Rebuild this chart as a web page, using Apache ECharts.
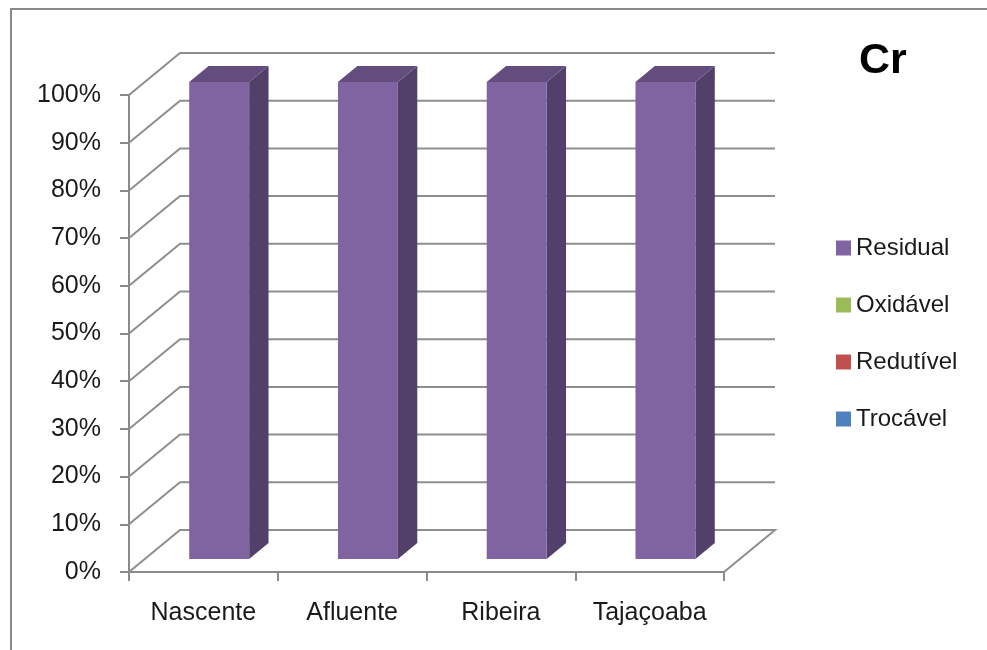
<!DOCTYPE html>
<html>
<head>
<meta charset="utf-8">
<script src="https://cdn.jsdelivr.net/npm/echarts@6/dist/echarts.min.js"></script>
<style>
html,body{margin:0;padding:0;background:#fff;}
#chart{width:987px;height:650px;}
</style>
</head>
<body>
<div id="chart"></div>
<script>
// ---- data ----
const categories = ['Nascente', 'Afluente', 'Ribeira', 'Tajaçoaba'];
const trocavel  = [0, 0, 0, 0];
const redutivel = [0, 0, 0, 0];
const oxidavel  = [0, 0, 0, 0];
const residual  = [100, 100, 100, 100];
const seriesNames = ['Trocável', 'Redutível', 'Oxidável', 'Residual'];
const gridLevels = [0, 10, 20, 30, 40, 50, 60, 70, 80, 90, 100];
const chartTitle = 'Cr';

// ---- styles ----
const FONT = '"Liberation Sans", Arial, sans-serif';
const DX = 51, DY = -42;        // depth projection (pixels)
const F1 = 0.31, F2 = 0.69;     // bar depth range (fraction)
const BAR_W = 0.403;            // bar width as fraction of band
const GRID_COLOR = '#8e8e8e';
const colors = {
  'Trocável':  ['#4F81BD', '#34577F', '#3F6797'],
  'Redutível': ['#C0504D', '#823634', '#9A403E'],
  'Oxidável':  ['#9BBB59', '#697F3C', '#7C9647'],
  'Residual':  ['#8064A2', '#52406A', '#634D7F']
};

const seriesValues = [trocavel, redutivel, oxidavel, residual];

function wallSeries() {
  return {
    type: 'custom',
    name: '__walls',
    silent: true,
    z: 1,
    data: gridLevels.map(v => [0, v]),
    encode: { x: 0, y: 1 },
    renderItem: function (params, api) {
      const v = api.value(1);
      const p = api.coord([0, v]);
      const bw = api.size([1, 0])[0];
      const left = p[0] - bw / 2;
      const right = api.coord([categories.length - 1, v])[0] + bw / 2;
      const y = p[1];
      const pts = [[left, y], [left + DX, y + DY], [right + DX, y + DY]];
      if (v === 0) pts.push([right, y]);
      return {
        type: 'polyline',
        shape: { points: pts },
        style: { stroke: GRID_COLOR, lineWidth: 2, fill: null }
      };
    }
  };
}

function barSeries(k) {
  const name = seriesNames[k];
  const c = colors[name];
  const data = categories.map((cat, i) => {
    let base = 0;
    for (let j = 0; j < k; j++) base += seriesValues[j][i];
    return [i, base, base + seriesValues[k][i]];
  });
  return {
    type: 'custom',
    name: name,
    z: 5,
    itemStyle: { color: c[0] },
    data: data,
    encode: { x: 0, y: [1, 2] },
    renderItem: function (params, api) {
      const i = api.value(0), b = api.value(1), t = api.value(2);
      if (!(t > b)) return null;
      const c0 = api.coord([i, b]);
      const c1 = api.coord([i, t]);
      const bw = api.size([1, 0])[0];
      const w = bw * BAR_W;
      const xf = c0[0] + F1 * DX - w / 2;
      const yb = c0[1] + F1 * DY;
      const yt = c1[1] + F1 * DY;
      const ddx = (F2 - F1) * DX, ddy = (F2 - F1) * DY;
      return {
        type: 'group',
        children: [
          { type: 'polygon', shape: { points: [[xf + w, yt], [xf + w + ddx, yt + ddy], [xf + w + ddx, yb + ddy], [xf + w, yb]] },
            style: { fill: c[1] } },
          { type: 'polygon', shape: { points: [[xf, yt], [xf + ddx, yt + ddy], [xf + w + ddx, yt + ddy], [xf + w, yt]] },
            style: { fill: c[2] } },
          { type: 'rect', shape: { x: xf, y: yt, width: w, height: yb - yt },
            style: { fill: c[0] } }
        ]
      };
    }
  };
}

const chart = echarts.init(document.getElementById('chart'), null, { renderer: 'canvas' });
chart.setOption({
  backgroundColor: '#ffffff',
  animation: false,
  title: {
    text: chartTitle,
    left: 854, top: 35,
    textStyle: { fontFamily: FONT, fontSize: 43, fontWeight: 'bold', color: '#000' }
  },
  graphic: [{
    type: 'rect', silent: true, z: 0,
    shape: { x: 11, y: 9, width: 1200, height: 900 },
    style: { fill: null, stroke: '#8a8a8a', lineWidth: 2 }
  }],
  legend: {
    orient: 'vertical',
    left: 831, top: 231,
    itemWidth: 15, itemHeight: 15, itemGap: 33,
    data: [
      { name: 'Residual', icon: 'rect' },
      { name: 'Oxidável', icon: 'rect' },
      { name: 'Redutível', icon: 'rect' },
      { name: 'Trocável', icon: 'rect' }
    ],
    textStyle: { fontFamily: FONT, fontSize: 24, color: '#1a1a1a', lineHeight: 24 }
  },
  grid: { left: 129, top: 95, width: 595, height: 477, containLabel: false },
  xAxis: {
    type: 'category',
    data: categories,
    boundaryGap: true,
    axisLine: { show: true, lineStyle: { color: '#8a8a8a', width: 2 } },
    axisTick: { show: true, length: 9, lineStyle: { color: '#8a8a8a', width: 2 } },
    axisLabel: { fontFamily: FONT, fontSize: 25, color: '#1a1a1a', margin: 29 },
    splitLine: { show: false }
  },
  yAxis: {
    type: 'value',
    min: 0, max: 100, interval: 10,
    axisLine: { show: true, lineStyle: { color: '#8a8a8a', width: 2 } },
    axisTick: { show: true, length: 9, lineStyle: { color: '#8a8a8a', width: 2 } },
    axisLabel: { fontFamily: FONT, fontSize: 25, color: '#1a1a1a', margin: 28, formatter: '{value}%' },
    splitLine: { show: false }
  },
  series: [wallSeries()].concat(seriesNames.map((n, k) => barSeries(k)))
});
</script>
</body>
</html>
